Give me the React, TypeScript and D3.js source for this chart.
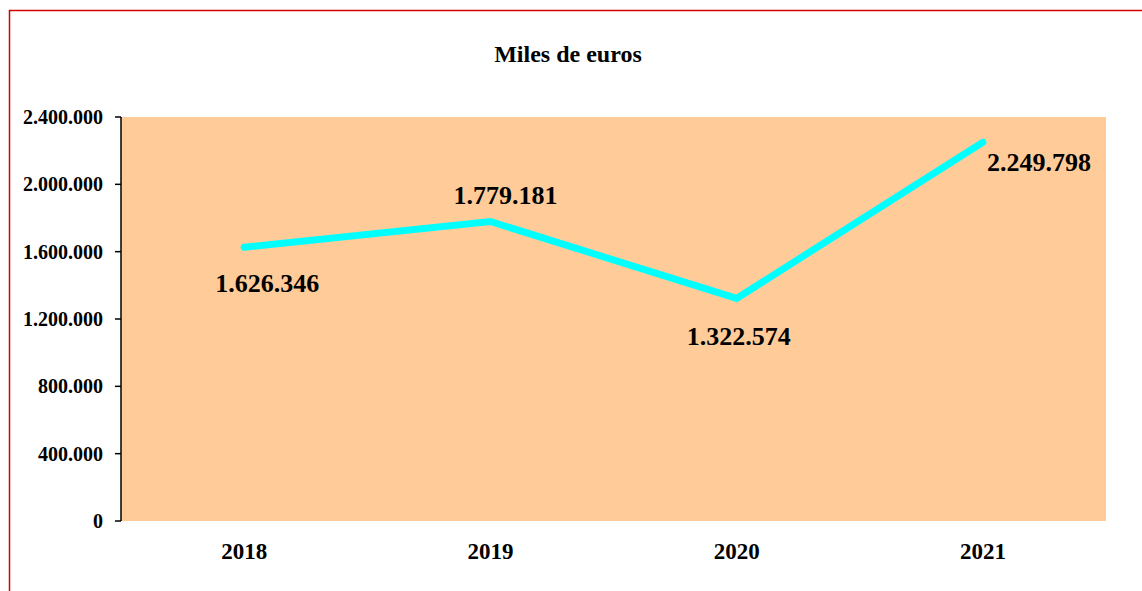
import * as d3 from "d3";
import { useEffect } from "react";

const years = ["2018", "2019", "2020", "2021"];
const values = [1626346, 1779181, 1322574, 2249798];
const yTicks = [0, 400000, 800000, 1200000, 1600000, 2000000, 2400000];
// where Excel dropped each data label, relative to its point
const labelOffsets: [number, number][] = [
	[23, 45],
	[15, -18],
	[2, 47],
	[56, 29],
];

const W = 1142;
const H = 591;
const plot = { left: 121, right: 1106, top: 117, bottom: 521 };
const font = "'Liberation Serif', 'Times New Roman', serif";

const fmt = (v: number) =>
	d3.format(",")(v).replace(/,/g, ".");

export default function App() {
	useEffect(() => {
		document.body.style.margin = "0";
	}, []);

	const x = d3
		.scaleBand<string>()
		.domain(years)
		.range([plot.left, plot.right]);
	const y = d3
		.scaleLinear()
		.domain([0, 2400000])
		.range([plot.bottom, plot.top]);

	const line = d3
		.line<number>()
		.x((_, i) => (x(years[i]) ?? 0) + x.bandwidth() / 2)
		.y((d) => y(d));

	return (
		<svg width={W} height={H} style={{ display: "block" }}>
			<rect width={W} height={H} fill="#fff" />
			{/* chart border, runs off the page on the right and bottom */}
			<rect
				x={9.5}
				y={10.5}
				width={W + 20}
				height={H + 20}
				fill="none"
				stroke="#d40000"
				strokeWidth={1.5}
			/>

			<text
				x={568}
				y={62}
				textAnchor="middle"
				fontFamily={font}
				fontWeight="bold"
				fontSize={24}
			>
				Miles de euros
			</text>

			<rect
				x={plot.left}
				y={plot.top}
				width={plot.right - plot.left}
				height={plot.bottom - plot.top}
				fill="#ffcc99"
			/>

			{/* y axis */}
			<line
				x1={plot.left}
				x2={plot.left}
				y1={plot.top}
				y2={plot.bottom}
				stroke="#000"
				strokeWidth={1.5}
			/>
			{yTicks.map((t) => (
				<g key={t}>
					<line
						x1={plot.left - 6}
						x2={plot.left}
						y1={y(t)}
						y2={y(t)}
						stroke="#000"
						strokeWidth={1.5}
					/>
					<text
						x={103}
						y={y(t) + 7}
						textAnchor="end"
						fontFamily={font}
						fontWeight="bold"
						fontSize={20}
					>
						{fmt(t)}
					</text>
				</g>
			))}

			{years.map((yr) => (
				<text
					key={yr}
					x={(x(yr) ?? 0) + x.bandwidth() / 2}
					y={559}
					textAnchor="middle"
					fontFamily={font}
					fontWeight="bold"
					fontSize={23}
				>
					{yr}
				</text>
			))}

			<path
				d={line(values) ?? ""}
				fill="none"
				stroke="#00ffff"
				strokeWidth={7}
				strokeLinecap="round"
				strokeLinejoin="miter"
			/>

			{values.map((v, i) => (
				<text
					key={i}
					x={(x(years[i]) ?? 0) + x.bandwidth() / 2 + labelOffsets[i][0]}
					y={y(v) + labelOffsets[i][1]}
					textAnchor="middle"
					fontFamily={font}
					fontWeight="bold"
					fontSize={26}
				>
					{fmt(v)}
				</text>
			))}
		</svg>
	);
}
